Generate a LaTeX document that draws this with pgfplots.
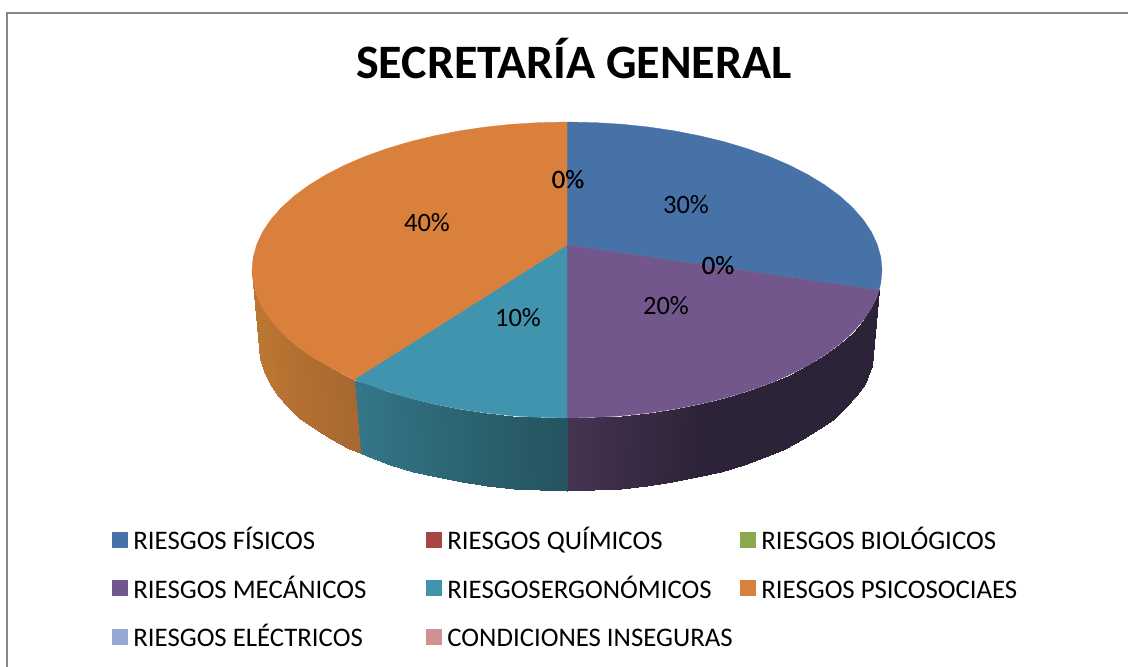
\documentclass[border=0pt]{standalone}
\usepackage{fontspec}
\usepackage{pgfplots}
\pgfplotsset{compat=1.18}
\setmainfont{Carlito}
\definecolor{cblue}{HTML}{4672A8}
\definecolor{cred}{HTML}{A64543}
\definecolor{cgreen}{HTML}{8BA94E}
\definecolor{cpurple}{HTML}{72578D}
\definecolor{cteal}{HTML}{4094AE}
\definecolor{corange}{HTML}{D9803C}
\definecolor{clblue}{HTML}{96A9D2}
\definecolor{cpink}{HTML}{CF9292}
\definecolor{sorA}{HTML}{BC7633}
\definecolor{sorB}{HTML}{A86830}
\definecolor{steA}{HTML}{347789}
\definecolor{steB}{HTML}{25545F}
\definecolor{spuA}{HTML}{463350}
\definecolor{spuB}{HTML}{2D2338}
\newcommand\lgd[1]{\addlegendentry{\makebox[294.6pt][l]{\rule[-19.5pt]{0pt}{48.7pt}\hspace*{4pt}#1}}}
\newcommand\lbl[2]{\node[font=\fontsize{26.5}{30}\selectfont,text=black] at (axis cs:#1) {#2};}
\begin{document}
\begin{tikzpicture}
\begin{axis}[
  at={(0pt,0pt)}, anchor=south west,
  scale only axis, width=1128pt, height=667pt,
  xmin=0, xmax=1128, ymin=0, ymax=667, y dir=reverse,
  hide axis,
  colormap={sides}{color(0)=(sorA) color(10)=(sorB) color(10.02)=(steA) color(20)=(steB) color(20.02)=(spuA) color(30)=(spuB)},
  point meta min=0, point meta max=30,
  legend columns=3,
  legend style={at={(axis cs:112,518.5)}, anchor=north west, draw=none, fill=none, inner sep=0pt, outer sep=0pt,
    font=\fontsize{26.8}{30}\selectfont, text=black, column sep=0pt, row sep=13.9pt},
  legend cell align=left,
  legend image code/.code={\fill[#1] (0pt,-11pt) rectangle (15pt,4pt);},
]
% legend
\addlegendimage{cblue}\lgd{RIESGOS FÍSICOS}
\addlegendimage{cred}\lgd{RIESGOS QUÍMICOS}
\addlegendimage{cgreen}\lgd{RIESGOS BIOLÓGICOS}
\addlegendimage{cpurple}\lgd{RIESGOS MECÁNICOS}
\addlegendimage{cteal}\lgd{RIESGOSERGONÓMICOS}
\addlegendimage{corange}\lgd{RIESGOS PSICOSOCIAES}
\addlegendimage{clblue}\lgd{RIESGOS ELÉCTRICOS}
\addlegendimage{cpink}\lgd{CONDICIONES INSEGURAS}
% frame
\addplot[forget plot,color=black!47,line width=2pt] coordinates {(7,667) (7,13) (1128,13)};
% sides, one patch per rim segment
\addplot[forget plot,patch,patch type=rectangle,shader=interp,point meta=explicit] coordinates {
(879.1,290)[30] (877.2,295.7)[30] (870.3,371.2)[30] (872.2,365.7)[30]
(877.2,295.7)[30] (871.3,308.3)[30] (864.5,383.5)[30] (870.3,371.2)[30]
(871.3,308.3)[30] (863,320.6)[30] (856.4,395.6)[30] (864.5,383.5)[30]
(863,320.6)[30] (852.5,332.5)[30] (846.1,407.3)[30] (856.4,395.6)[30]
(852.5,332.5)[30] (839.8,344)[30] (833.7,418.5)[30] (846.1,407.3)[30]
(839.8,344)[30] (825,354.9)[30] (819.3,429.2)[30] (833.7,418.5)[30]
(825,354.9)[30] (808.3,365.1)[30] (802.9,439.2)[30] (819.3,429.2)[30]
(808.3,365.1)[30] (789.7,374.7)[30] (784.8,448.5)[30] (802.9,439.2)[30]
(789.7,374.7)[30] (769.5,383.4)[30] (765,457.1)[30] (784.8,448.5)[30]
(769.5,383.4)[30] (747.7,391.2)[30] (743.7,464.8)[30] (765,457.1)[30]
(747.7,391.2)[30] (724.5,398.2)[30] (721,471.6)[30] (743.7,464.8)[30]
(724.5,398.2)[30] (700.1,404.1)[30] (697.2,477.4)[30] (721,471.6)[30]
(700.1,404.1)[30] (674.7,409.1)[28] (672.3,482.3)[28] (697.2,477.4)[30]
(674.7,409.1)[28] (648.5,413)[26] (646.7,486.1)[26] (672.3,482.3)[28]
(648.5,413)[26] (621.7,415.8)[24] (620.5,488.8)[24] (646.7,486.1)[26]
(621.7,415.8)[24] (594.5,417.4)[22] (593.8,490.4)[22] (620.5,488.8)[24]
(594.5,417.4)[22] (567,418)[20.02] (567,491)[20.02] (593.8,490.4)[22]
(567,418)[20] (539.5,417.4)[19] (540.2,490.4)[19] (567,491)[20]
(539.5,417.4)[19] (512.3,415.8)[17.8] (513.5,488.8)[17.8] (540.2,490.4)[19]
(512.3,415.8)[17.8] (485.5,413)[16.6] (487.3,486.1)[16.6] (513.5,488.8)[17.8]
(485.5,413)[16.6] (459.3,409.1)[15.4] (461.7,482.3)[15.4] (487.3,486.1)[16.6]
(459.3,409.1)[15.4] (433.9,404.1)[14.2] (436.8,477.4)[14.2] (461.7,482.3)[15.4]
(433.9,404.1)[14.2] (409.5,398.2)[13] (413,471.6)[13] (436.8,477.4)[14.2]
(409.5,398.2)[13] (386.3,391.2)[11.8] (390.3,464.8)[11.8] (413,471.6)[13]
(386.3,391.2)[11.8] (364.5,383.4)[10.6] (369,457.1)[10.6] (390.3,464.8)[11.8]
(364.5,383.4)[10.6] (354,379.5)[10.02] (359.8,453.3)[10.02] (369,457.1)[10.6]
(354,379.5)[10] (344.3,374.7)[9.2] (349.2,448.5)[9.2] (359.8,453.3)[10]
(344.3,374.7)[9.2] (325.7,365.1)[7.5] (331.1,439.2)[7.5] (349.2,448.5)[9.2]
(325.7,365.1)[7.5] (309,354.9)[6] (314.7,429.2)[6] (331.1,439.2)[7.5]
(309,354.9)[6] (294.2,344)[4.5] (300.3,418.5)[4.5] (314.7,429.2)[6]
(294.2,344)[4.5] (281.5,332.5)[3] (287.9,407.3)[3] (300.3,418.5)[4.5]
(281.5,332.5)[3] (271,320.6)[1.5] (277.6,395.6)[1.5] (287.9,407.3)[3]
(271,320.6)[1.5] (262.7,308.3)[0] (269.5,383.5)[0] (277.6,395.6)[1.5]
(262.7,308.3)[0] (256.8,295.7)[0] (263.7,371.2)[0] (269.5,383.5)[0]
(256.8,295.7)[0] (253.2,282.9)[0] (260.2,358.6)[0] (263.7,371.2)[0]
(253.2,282.9)[0] (252,270)[0] (259,346)[0] (260.2,358.6)[0]
};
% top: blue
\addplot[forget plot,fill=cblue,draw=cblue,line width=.3pt] coordinates {(567,245) (567,122) (594.5,122.6) (621.7,124.2) (648.5,127) (674.7,130.9) (700.1,135.9) (724.5,141.8) (747.7,148.8) (769.5,156.6) (789.7,165.3) (808.3,174.9) (825,185.1) (839.8,196) (852.5,207.5) (863,219.4) (871.3,231.7) (877.2,244.3) (880.8,257.1) (882,270) (880.8,282.9) (879.1,290)} --cycle;
% top: purple
\addplot[forget plot,fill=cpurple,draw=cpurple,line width=.3pt] coordinates {(567,245) (879.1,290) (877.2,295.7) (871.3,308.3) (863,320.6) (852.5,332.5) (839.8,344) (825,354.9) (808.3,365.1) (789.7,374.7) (769.5,383.4) (747.7,391.2) (724.5,398.2) (700.1,404.1) (674.7,409.1) (648.5,413) (621.7,415.8) (594.5,417.4) (567,418)} --cycle;
% top: teal
\addplot[forget plot,fill=cteal,draw=cteal,line width=.3pt] coordinates {(567,245) (567,418) (539.5,417.4) (512.3,415.8) (485.5,413) (459.3,409.1) (433.9,404.1) (409.5,398.2) (386.3,391.2) (364.5,383.4) (354,379.5)} --cycle;
% top: orange
\addplot[forget plot,fill=corange,draw=corange,line width=.3pt] coordinates {(567,245) (354,379.5) (344.3,374.7) (325.7,365.1) (309,354.9) (294.2,344) (281.5,332.5) (271,320.6) (262.7,308.3) (256.8,295.7) (253.2,282.9) (252,270) (253.2,257.1) (256.8,244.3) (262.7,231.7) (271,219.4) (281.5,207.5) (294.2,196) (309,185.1) (325.7,174.9) (344.3,165.3) (364.5,156.6) (386.3,148.8) (409.5,141.8) (433.9,135.9) (459.3,130.9) (485.5,127) (512.3,124.2) (539.5,122.6) (567,122)} --cycle;
% labels
\lbl{686,205}{30\%}
\lbl{718,266}{0\%}
\lbl{718,266}{0\%}
\lbl{666,306}{20\%}
\lbl{518,318}{10\%}
\lbl{427,223}{40\%}
\lbl{568,180}{0\%}
\lbl{568,180}{0\%}
\node[font=\bfseries\fontsize{48}{52}\selectfont,text=black] at (axis cs:574,59) {SECRETARÍA GENERAL};
\end{axis}
\pgfresetboundingbox
\path[use as bounding box] (0pt,0pt) rectangle (1128pt,667pt);
\end{tikzpicture}
\end{document}
